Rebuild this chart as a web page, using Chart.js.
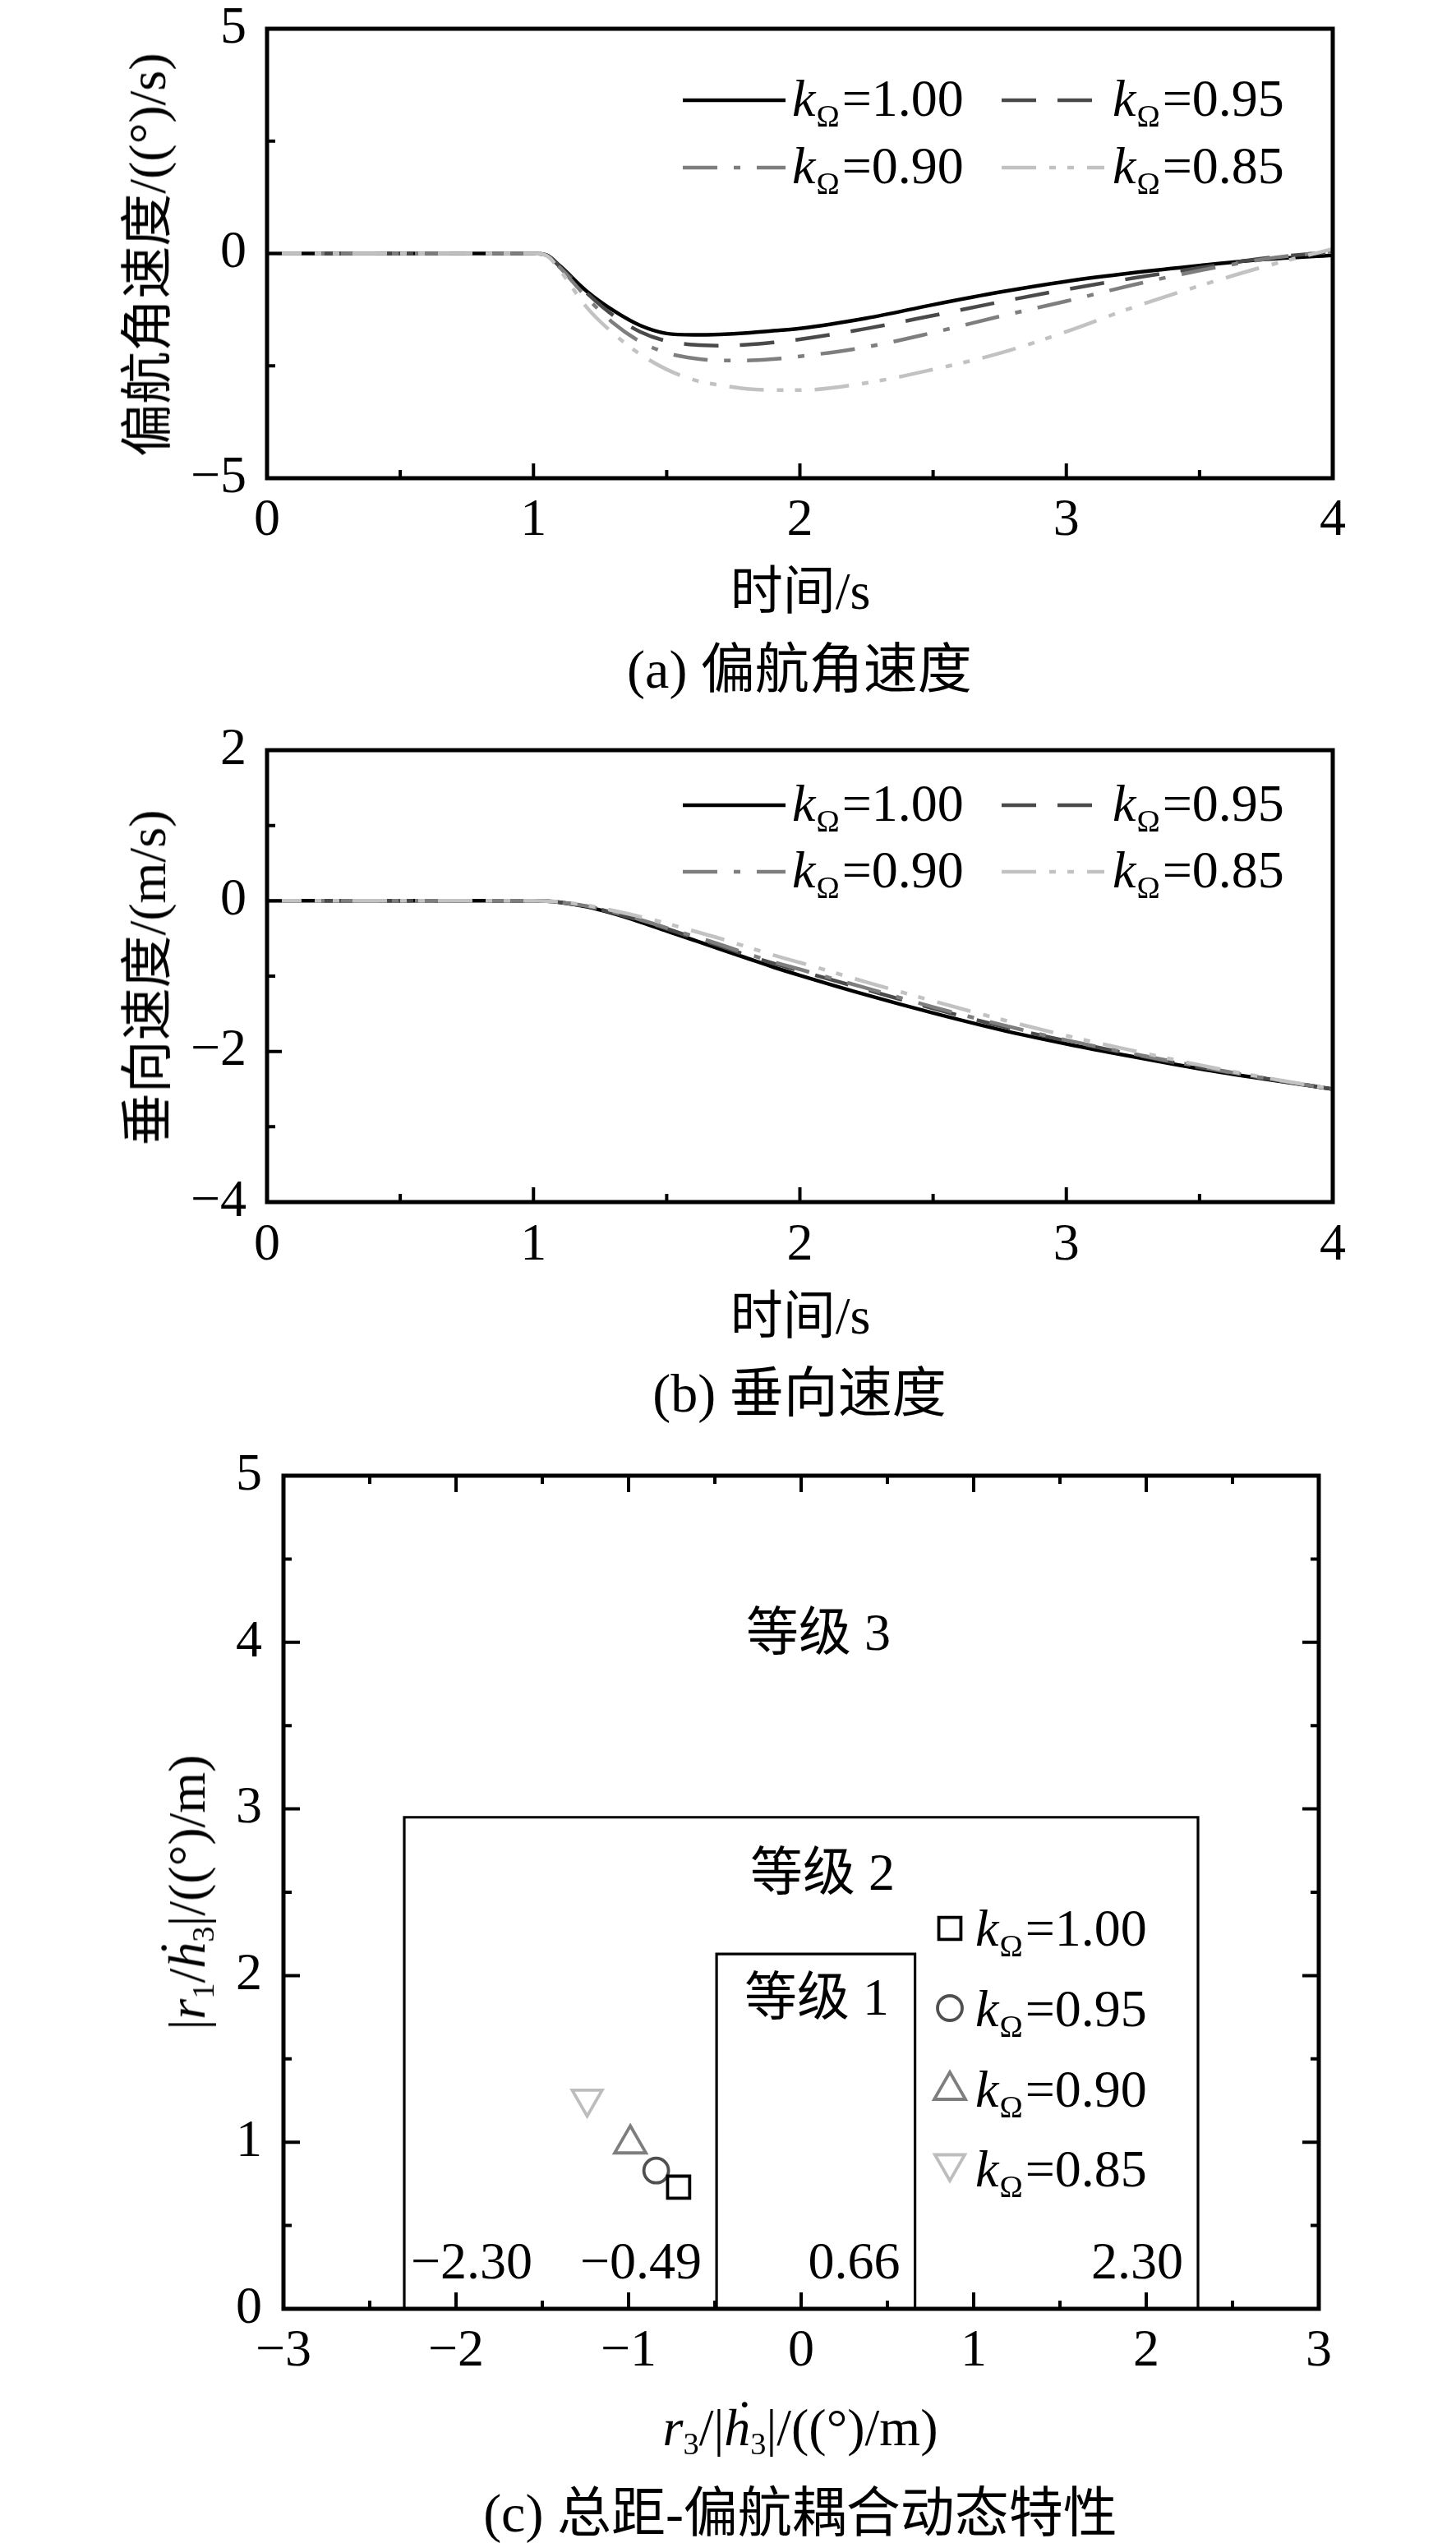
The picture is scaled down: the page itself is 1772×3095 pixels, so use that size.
<!DOCTYPE html>
<html>
<head>
<meta charset="utf-8">
<script src="https://cdn.jsdelivr.net/npm/chart.js@4.4.1/dist/chart.umd.min.js"></script>
<style>
html,body{margin:0;padding:0;background:#fff;}
body{width:1772px;height:3095px;position:relative;overflow:hidden;font-family:"Liberation Serif","Noto Sans CJK SC",serif;color:#000;}
canvas{position:absolute;left:0;}
.t{position:absolute;white-space:nowrap;font-size:64px;line-height:1;}
.t sub{font-size:0.6em;vertical-align:-0.28em;line-height:0;}
.rot{transform:translate(-50%,-50%) rotate(-90deg);}
.ctr{transform:translate(-50%,-50%);}
</style>
</head>
<body>
<canvas id="c1" width="1772" height="900" style="top:-40px;width:1772px;height:900px"></canvas>
<canvas id="c2" width="1772" height="920" style="top:800px;width:1772px;height:920px"></canvas>
<canvas id="c3" width="1772" height="1375" style="top:1720px;width:1772px;height:1375px"></canvas>

<div class="t rot" style="left:180px;top:310px">偏航角速度/((°)/s)</div>
<div class="t ctr" style="left:974px;top:720px">时间/s</div>
<div class="t ctr" style="left:973px;top:815px;font-size:66px">(a) 偏航角速度</div>

<div class="t rot" style="left:180px;top:1190px">垂向速度/(m/s)</div>
<div class="t ctr" style="left:974px;top:1602px">时间/s</div>
<div class="t ctr" style="left:973px;top:1696px;font-size:66px">(b) 垂向速度</div>

<div class="t rot" style="left:228px;top:2303px">|<i>r</i><sub>1</sub>/<i>ḣ</i><sub>3</sub>|/((°)/m)</div>
<div class="t ctr" style="left:974px;top:2955px"><i>r</i><sub>3</sub>/|<i>ḣ</i><sub>3</sub>|/((°)/m)</div>
<div class="t ctr" style="left:974px;top:3059px;font-size:66px">(c) 总距-偏航耦合动态特性</div>

<script>
// ---------------- data ----------------
const timeS = [0, 0.5, 1.0, 1.05, 1.1, 1.2, 1.3, 1.4, 1.5, 1.6, 1.7, 1.8, 1.9, 2.0, 2.25, 2.5, 2.75, 3.0, 3.25, 3.5, 3.75, 4.0];
const kOmegaLabels = ['1.00', '0.95', '0.90', '0.85'];

// (a) yaw rate, (°)/s
const yawRate_k100 = [0, 0, 0, -0.04, -0.28, -0.84, -1.27, -1.60, -1.78, -1.81, -1.80, -1.77, -1.72, -1.67, -1.44, -1.14, -0.86, -0.62, -0.43, -0.27, -0.13, -0.04];
const yawRate_k095 = [0, 0, 0, -0.04, -0.30, -0.88, -1.38, -1.74, -1.95, -2.03, -2.05, -2.03, -1.98, -1.91, -1.67, -1.38, -1.08, -0.80, -0.55, -0.32, -0.10, 0.03];
const yawRate_k090 = [0, 0, 0, -0.04, -0.32, -0.98, -1.55, -1.96, -2.21, -2.33, -2.38, -2.38, -2.35, -2.29, -2.08, -1.76, -1.40, -1.06, -0.70, -0.38, -0.12, 0.05];
const yawRate_k085 = [0, 0, 0, -0.05, -0.38, -1.20, -1.78, -2.24, -2.58, -2.81, -2.93, -3.01, -3.04, -3.04, -2.88, -2.58, -2.22, -1.74, -1.20, -0.72, -0.28, 0.10];

// (b) vertical speed, m/s
const vertSpeed_k100 = [0, 0, 0, -0.005, -0.02, -0.08, -0.17, -0.28, -0.40, -0.52, -0.64, -0.76, -0.88, -0.99, -1.25, -1.49, -1.71, -1.90, -2.07, -2.23, -2.37, -2.50];
const vertSpeed_k095 = [0, 0, 0, -0.005, -0.02, -0.075, -0.16, -0.26, -0.37, -0.49, -0.60, -0.72, -0.83, -0.93, -1.18, -1.43, -1.66, -1.86, -2.04, -2.21, -2.36, -2.50];
const vertSpeed_k090 = [0, 0, 0, -0.005, -0.02, -0.07, -0.15, -0.25, -0.36, -0.47, -0.58, -0.70, -0.81, -0.91, -1.16, -1.41, -1.64, -1.85, -2.03, -2.20, -2.36, -2.50];
const vertSpeed_k085 = [0, 0, 0, -0.005, -0.015, -0.06, -0.13, -0.21, -0.30, -0.40, -0.50, -0.61, -0.72, -0.82, -1.08, -1.33, -1.57, -1.79, -1.99, -2.18, -2.35, -2.50];

// (c) collective-yaw coupling
const couplingR3 = [-0.71, -0.84, -0.99, -1.24];   // r3/|h3|
const couplingR1 = [0.73, 0.83, 0.99, 1.26];       // |r1/h3|
const level1X = [-0.49, -0.49, 0.66, 0.66];
const level1Y = [0, 2.13, 2.13, 0];
const level2X = [-2.30, -2.30, 2.30, 2.30];
const level2Y = [0, 2.95, 2.95, 0];
const levelNames = ['等级 1', '等级 2', '等级 3'];
const levelBounds = [-2.30, -0.49, 0.66, 2.30];

// ---------------- styles ----------------
const FONT = "'Liberation Serif','Noto Sans CJK SC',serif";
Chart.defaults.font.family = FONT;
Chart.defaults.color = '#000';
const lineColors = ['#000000', '#4a4a4a', '#7e7e7e', '#c2c2c2'];
const lineDashes = [[], [42, 26], [42, 20, 8, 20], [42, 16, 8, 14, 8, 16]];
const markerStyles = ['rect', 'circle', 'triangle', 'triangle'];
const markerRot = [0, 0, 0, 180];
const markerRadius = [19, 15, 22, 21];
const markerColors = ['#000000', '#505050', '#7e7e7e', '#bdbdbd'];

const fmt = v => String(v).replace('-', '\u2212');

function drawTicks(ctx, a, scale, minor, major, sides, Lmaj, Lmin) {
  const n = Math.round((scale.max - scale.min) / minor);
  ctx.beginPath();
  for (let i = 1; i < n; i++) {
    const v = scale.min + i * minor;
    const isMaj = Math.abs(v / major - Math.round(v / major)) < 1e-6;
    const L = isMaj ? Lmaj : Lmin;
    const p = scale.getPixelForValue(v);
    sides.forEach(s => {
      if (s === 'bottom') { ctx.moveTo(p, a.bottom); ctx.lineTo(p, a.bottom - L); }
      if (s === 'top') { ctx.moveTo(p, a.top); ctx.lineTo(p, a.top + L); }
      if (s === 'left') { ctx.moveTo(a.left, p); ctx.lineTo(a.left + L, p); }
      if (s === 'right') { ctx.moveTo(a.right, p); ctx.lineTo(a.right - L, p); }
    });
  }
  ctx.stroke();
}

function drawKLabel(ctx, x, base, label) {
  ctx.fillStyle = '#000';
  ctx.textAlign = 'left';
  ctx.textBaseline = 'alphabetic';
  ctx.font = "italic 64px 'Liberation Serif'";
  ctx.fillText('k', x, base);
  x += ctx.measureText('k').width + 1;
  ctx.font = "38px 'Liberation Serif'";
  ctx.fillText('\u03A9', x, base + 13);
  x += ctx.measureText('\u03A9').width + 3;
  ctx.font = "64px 'Liberation Serif'";
  ctx.fillText('=' + label, x, base);
}

function annotateLevels(ctx, a, xs, ys) {
  ctx.fillStyle = '#000';
  ctx.font = "64px 'Liberation Serif','Noto Sans CJK SC'";
  ctx.textBaseline = 'middle';
  ctx.textAlign = 'center';
  const cx = xs.getPixelForValue(0.1);
  ctx.fillText(levelNames[2], cx, ys.getPixelForValue(4.04));
  ctx.fillText(levelNames[1], cx + 5, ys.getPixelForValue(2.60));
  ctx.fillText(levelNames[0], cx - 2, ys.getPixelForValue(1.85));
  ctx.textBaseline = 'alphabetic';
  const base = ys.getPixelForValue(0) - 37;
  levelBounds.forEach((b, i) => {
    const px = xs.getPixelForValue(b);
    const txt = b.toFixed(2).replace('-', '\u2212');
    if (i === 0) { ctx.textAlign = 'left'; ctx.fillText(txt, px + 8, base); }
    else { ctx.textAlign = 'right'; ctx.fillText(txt, px - 18, base); }
  });
}

// per-chart decoration settings (kept outside Chart.js options so they are not treated as scriptable)
const decorCfg = {
  c1: { xMinor: 0.5, xMajor: 1, xSides: ['bottom'], yMinor: 2.5, yMajor: 5, ySides: ['left'], Lmaj: 18, Lmin: 10,
        legend: { type: 'line', sampleX: [506, 894], sampleLen: 125, textX: [639, 1029], rowY: [87, 169], baseOff: 19 } },
  c2: { xMinor: 0.5, xMajor: 1, xSides: ['bottom'], yMinor: 1, yMajor: 2, ySides: ['left'], Lmaj: 18, Lmin: 10,
        legend: { type: 'line', sampleX: [506, 894], sampleLen: 125, textX: [639, 1029], rowY: [67, 148], baseOff: 19 } },
  c3: { xMinor: 0.5, xMajor: 1, xSides: ['bottom', 'top'], yMinor: 0.5, yMajor: 1, ySides: ['left', 'right'], Lmaj: 20, Lmin: 10,
        legend: { type: 'marker', markerX: 811, textX: 842, rowBase: [572, 670, 768, 865], markerOff: [21, 22, 20, 28], scale: 1 },
        annotate: annotateLevels }
};

function drawMarker(ctx, style, rot, r, x, y) {
  ctx.beginPath();
  if (style === 'rect') {
    const s = Math.SQRT1_2 * r;
    ctx.rect(x - s, y - s, 2 * s, 2 * s);
  } else if (style === 'circle') {
    ctx.arc(x, y, r, 0, Math.PI * 2);
  } else {
    let ang = (rot || 0) * Math.PI / 180;
    for (let k = 0; k < 3; k++) {
      const px = x + Math.sin(ang) * r, py = y - Math.cos(ang) * r;
      if (k === 0) ctx.moveTo(px, py); else ctx.lineTo(px, py);
      ang += 2 * Math.PI / 3;
    }
    ctx.closePath();
  }
  ctx.stroke();
}

const decorPlugin = {
  id: 'decor',
  afterDraw(chart) {
    const o = decorCfg[chart.canvas.id];
    const { ctx, chartArea: a } = chart;
    const xs = chart.scales.x, ys = chart.scales.y;
    ctx.save();
    if (o.annotate) o.annotate(ctx, a, xs, ys);
    ctx.strokeStyle = '#000';
    ctx.lineWidth = 5;
    ctx.strokeRect(a.left, a.top, a.right - a.left, a.bottom - a.top);
    ctx.lineWidth = 4;
    drawTicks(ctx, a, xs, o.xMinor, o.xMajor, o.xSides, o.Lmaj, o.Lmin);
    drawTicks(ctx, a, ys, o.yMinor, o.yMajor, o.ySides, o.Lmaj, o.Lmin);
    const lg = o.legend;
    if (lg.type === 'line') {
      chart.data.datasets.forEach((ds, i) => {
        const col = i % 2, row = Math.floor(i / 2);
        const x0 = a.left + lg.sampleX[col];
        const y = a.top + lg.rowY[row];
        ctx.save();
        ctx.strokeStyle = ds.borderColor;
        ctx.lineWidth = ds.borderWidth;
        ctx.setLineDash(ds.borderDash || []);
        ctx.beginPath();
        ctx.moveTo(x0, y);
        ctx.lineTo(x0 + lg.sampleLen, y);
        ctx.stroke();
        ctx.restore();
        drawKLabel(ctx, a.left + lg.textX[col], y + lg.baseOff, kOmegaLabels[i]);
      });
    } else {
      let k = 0;
      chart.data.datasets.forEach(ds => {
        if (!ds.isMarker) return;
        const y = a.top + lg.rowBase[k];
        ctx.save();
        ctx.strokeStyle = ds.pointBorderColor;
        ctx.lineWidth = ds.pointBorderWidth;
        drawMarker(ctx, ds.pointStyle, ds.pointRotation, ds.pointRadius * lg.scale, a.left + lg.markerX, y - lg.markerOff[k]);
        ctx.restore();
        drawKLabel(ctx, a.left + lg.textX, y, kOmegaLabels[k]);
        k++;
      });
    }
    ctx.restore();
  }
};

function lineDatasets(arrays) {
  return arrays.map((arr, i) => ({
    label: 'kΩ=' + kOmegaLabels[i],
    data: timeS.map((t, j) => ({ x: t, y: arr[j] })),
    borderColor: lineColors[i],
    borderWidth: 4.5,
    borderDash: lineDashes[i],
    pointRadius: 0,
    fill: false,
    cubicInterpolationMode: 'monotone',
    order: 4 - i
  }));
}

function timeChart(id, arrays, yMin, yMax, yStep, padTop, xHeight, xPad) {
  return new Chart(document.getElementById(id), {
    type: 'line',
    data: { datasets: lineDatasets(arrays) },
    plugins: [decorPlugin],
    options: {
      responsive: false, animation: false, devicePixelRatio: 1,
      layout: { padding: { top: padTop, right: 150, left: 0, bottom: 0 } },
      plugins: { legend: { display: false }, tooltip: { enabled: false } },
      scales: {
        x: {
          type: 'linear', min: 0, max: 4,
          grid: { display: false, drawTicks: false }, border: { display: false },
          ticks: { stepSize: 1, padding: xPad, font: { size: 64, lineHeight: 1 }, maxRotation: 0, callback: v => fmt(v) },
          afterFit(s) { s.height = xHeight; }
        },
        y: {
          type: 'linear', min: yMin, max: yMax,
          grid: { display: false, drawTicks: false }, border: { display: false },
          ticks: { stepSize: yStep, padding: 25, font: { size: 64, lineHeight: 1 }, callback: v => fmt(v) },
          afterFit(s) { s.width = 325; }
        }
      }
    }
  });
}

timeChart('c1', [yawRate_k100, yawRate_k095, yawRate_k090, yawRate_k085], -5, 5, 5, 75, 278, 20);
timeChart('c2', [vertSpeed_k100, vertSpeed_k095, vertSpeed_k090, vertSpeed_k085], -4, 2, 2, 113, 257, 21);

// ---------------- chart (c) ----------------
const markerDatasets = couplingR3.map((x, i) => ({
  label: 'kΩ=' + kOmegaLabels[i],
  isMarker: true,
  data: [{ x: x, y: couplingR1[i] }],
  showLine: false,
  pointStyle: markerStyles[i],
  pointRotation: markerRot[i],
  pointRadius: markerRadius[i],
  pointBorderColor: markerColors[i],
  pointBackgroundColor: 'rgba(0,0,0,0)',
  pointBorderWidth: 3.8,
  order: 0
}));
const boxDataset = (xs, ys) => ({
  data: xs.map((x, j) => ({ x: x, y: ys[j] })),
  showLine: true, borderColor: '#000', borderWidth: 3.2, pointRadius: 0, tension: 0, order: 5
});

new Chart(document.getElementById('c3'), {
  type: 'scatter',
  data: { datasets: [...markerDatasets, boxDataset(level2X, level2Y), boxDataset(level1X, level1Y)] },
  plugins: [decorPlugin],
  options: {
    responsive: false, animation: false, devicePixelRatio: 1,
    layout: { padding: { top: 76, right: 167, left: 0, bottom: 0 } },
    plugins: { legend: { display: false }, tooltip: { enabled: false } },
    scales: {
      x: {
        type: 'linear', min: -3, max: 3,
        grid: { display: false, drawTicks: false }, border: { display: false },
        ticks: { stepSize: 1, padding: 20, font: { size: 64, lineHeight: 1 }, maxRotation: 0, callback: v => fmt(v) },
        afterFit(s) { s.height = 285; }
      },
      y: {
        type: 'linear', min: 0, max: 5,
        grid: { display: false, drawTicks: false }, border: { display: false },
        ticks: { stepSize: 1, padding: 26, font: { size: 64, lineHeight: 1 }, callback: v => fmt(v) },
        afterFit(s) { s.width = 345; }
      }
    }
  }
});
</script>
</body>
</html>
